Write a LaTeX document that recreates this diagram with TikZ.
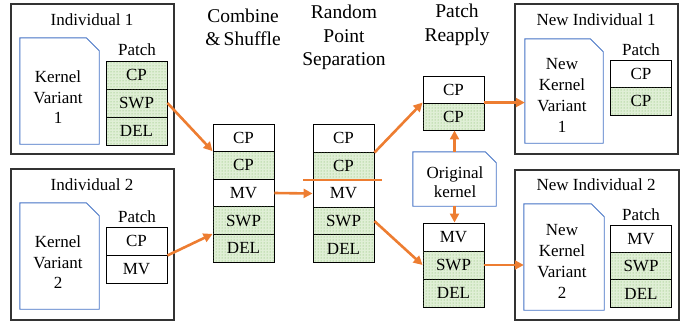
\documentclass[tikz,border=0pt]{standalone}
\usepackage{fontspec}
\setmainfont{LiberationSerif}[Extension=.ttf, UprightFont=*-Regular, BoldFont=*-Bold, ItalicFont=*-Italic, BoldItalicFont=*-BoldItalic]
\usetikzlibrary{arrows.meta,patterns}
\definecolor{myorange}{RGB}{237,125,49}
\definecolor{myblue}{RGB}{68,114,196}
\definecolor{greenbg}{RGB}{224,239,214}
\definecolor{greendot}{RGB}{120,180,90}
\newcommand\docpath[2]{\draw[docline] (#1.south west) -- (#1.north west) -- ([xshift=-#2]#1.north east) -- ([yshift=-#2]#1.north east) -- (#1.south east) -- cycle;}
\tikzset{
  txt/.style={font=\rmfamily\fontsize{17}{20.5}\selectfont, inner sep=0pt, align=center},
  ttl/.style={font=\rmfamily\fontsize{19.5}{23.5}\selectfont, inner sep=0pt, align=center},
  cell/.style={draw=black, line width=0.9pt, minimum width=61pt, minimum height=#1, inner sep=0pt, font=\rmfamily\fontsize{17}{20}\selectfont},
  cell/.default=27.6pt,
  gcell/.style={cell=#1, fill=greenbg, postaction={pattern=dots, pattern color=greendot}},
  gcell/.default=27.6pt,
  indbox/.style={draw=black!80, line width=1.3pt, inner sep=0pt},
  docshape/.style={inner sep=0pt},
  docline/.style={draw=myblue, line width=0.9pt},
  arr/.style={draw=myorange, line width=2.6pt, -{Triangle[length=9pt,width=9pt]}},
  cut/.style={draw=myorange, line width=2.6pt}
}
\begin{document}
\begin{tikzpicture}[x=1pt,y=-1pt]
\useasboundingbox (0,0) rectangle (688,324);
% individual boxes
\node[indbox, minimum width=163pt, minimum height=150pt] (ind1) at (92.5,79) {};
\node[indbox, minimum width=163pt, minimum height=151pt] (ind2) at (92.5,244.5) {};
\node[indbox, minimum width=163pt, minimum height=150pt] (nind1) at (596.5,79) {};
\node[indbox, minimum width=164pt, minimum height=150pt] (nind2) at (597,245) {};
\node[txt] (ind1t) at (92,20) {Individual 1};
\node[txt] (ind2t) at (92,185) {Individual 2};
\node[txt] (nind1t) at (596,20) {New Individual 1};
\node[txt] (nind2t) at (596,185) {New Individual 2};
% kernel documents
\node[docshape, minimum width=79pt, minimum height=106pt] (k1) at (59.5,91) {};
\docpath{k1}{13pt}
\node[txt] (k1t) at (58,97.5) {Kernel\\Variant\\1};
\node[docshape, minimum width=79pt, minimum height=106pt] (k2) at (59.5,256) {};
\docpath{k2}{13pt}
\node[txt] (k2t) at (58,262.5) {Kernel\\Variant\\2};
\node[docshape, minimum width=78pt, minimum height=104pt] (nk1) at (564,91) {};
\docpath{nk1}{13pt}
\node[txt, font=\rmfamily\fontsize{17}{21}\selectfont] (nk1t) at (562,95) {New\\Kernel\\Variant\\1};
\node[docshape, minimum width=80pt, minimum height=106pt] (nk2) at (564,257) {};
\docpath{nk2}{13pt}
\node[txt, font=\rmfamily\fontsize{17}{21}\selectfont] (nk2t) at (562,261.5) {New\\Kernel\\Variant\\2};
\node[docshape, minimum width=83pt, minimum height=54pt] (ok) at (454.5,179) {};
\docpath{ok}{11pt}
\node[txt, font=\rmfamily\fontsize{17}{19}\selectfont] (okt) at (455,182) {Original\\kernel};
% patch labels
\node[txt] (p1) at (137,50) {Patch};
\node[txt] (p2) at (137,217) {Patch};
\node[txt] (p3) at (641,50) {Patch};
\node[txt] (p4) at (641,215) {Patch};
% titles
\node[ttl] (t1) at (243,27.5) {Combine\\\&\,Shuffle};
\node[ttl] (t2) at (344,37.5) {Random\\Point\\Separation};
\node[ttl] (t3) at (457,25) {Patch\\Reapply};
% individual 1 patch
\node[gcell=28pt] (i1c1) at (136.5,75) {CP};
\node[gcell=28pt] (i1c2) at (136.5,103) {SWP};
\node[gcell=28pt] (i1c3) at (136.5,131) {DEL};
% individual 2 patch
\node[cell=28pt] (i2c1) at (136.5,241) {CP};
\node[cell=28pt] (i2c2) at (136.5,269) {MV};
% combine & shuffle
\node[cell] (cs1) at (243.5,137.8) {CP};
\node[gcell] (cs2) at (243.5,165.4) {CP};
\node[cell] (cs3) at (243.5,193) {MV};
\node[gcell] (cs4) at (243.5,220.6) {SWP};
\node[gcell] (cs5) at (243.5,248.2) {DEL};
% random point separation
\node[cell] (rp1) at (343.5,138.3) {CP};
\node[gcell] (rp2) at (343.5,165.9) {CP};
\node[cell] (rp3) at (343.5,193.5) {MV};
\node[gcell] (rp4) at (343.5,221.1) {SWP};
\node[gcell] (rp5) at (343.5,248.7) {DEL};
\coordinate (cutL) at (303,180);
\coordinate (cutR) at (382,180);
\draw[cut] (cutL) -- (cutR);
% patch reapply
\node[cell=27pt] (up1) at (453.5,89.5) {CP};
\node[gcell=27pt] (up2) at (453.5,116.5) {CP};
\node[cell=28pt] (lo1) at (453.5,237) {MV};
\node[gcell=28pt] (lo2) at (453.5,265) {SWP};
\node[gcell=28pt] (lo3) at (453.5,293) {DEL};
% new individual patches
\node[cell=27.5pt] (n1c1) at (641,73.75) {CP};
\node[gcell=27.5pt] (n1c2) at (641,101.25) {CP};
\node[cell=27.4pt] (n2c1) at (641,238.7) {MV};
\node[gcell=27.4pt] (n2c2) at (641,266.1) {SWP};
\node[gcell=27.4pt] (n2c3) at (641,293.5) {DEL};
% arrows
\draw[arr] (i1c2.east) -- (cs2.north west);
\draw[arr] (i2c1.south east) -- (cs5.north west);
\draw[arr] (cs3.east) -- (rp3.west);
\draw[arr] (rp1.south east) -- (up2.north west);
\draw[arr] (rp4.east) -- (lo2.west);
\draw[arr] (up2.north east) -- (nk1.west |- up2.north east);
\draw[arr] (lo2.east) -- (nk2.west |- lo2.east);
\draw[arr] (ok.north) -- (ok.north |- up2.south);
\draw[arr] (ok.south) -- (ok.south |- lo1.north);
\end{tikzpicture}
\end{document}
